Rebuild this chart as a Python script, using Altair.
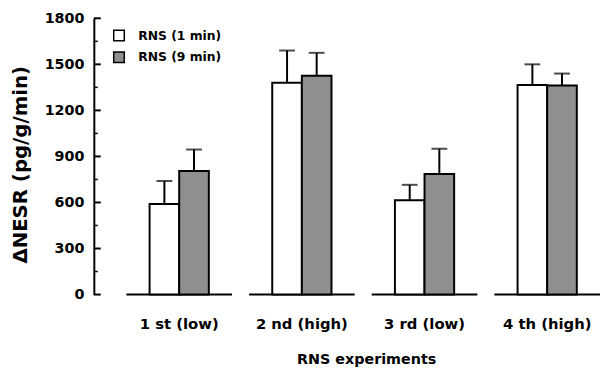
import altair as alt
import pandas as pd

groups = ["1 st (low)", "2 nd (high)", "3 rd (low)", "4 th (high)"]
series = ["RNS (1 min)", "RNS (9 min)"]
mean_1min = [590, 1380, 615, 1365]
mean_9min = [805, 1425, 785, 1362]
se_1min = [150, 210, 100, 135]
se_9min = [140, 150, 165, 78]
colors = ["white", "#8f8f8f"]
major_ticks = [0, 300, 600, 900, 1200, 1500, 1800]
minor_ticks = [150, 450, 750, 1050, 1350, 1650]

rows = []
for i, g in enumerate(groups):
    rows.append({"group": g, "series": series[0], "mean": mean_1min[i], "upper": mean_1min[i] + se_1min[i]})
    rows.append({"group": g, "series": series[1], "mean": mean_9min[i], "upper": mean_9min[i] + se_9min[i]})
df = pd.DataFrame(rows)
gdf = pd.DataFrame({"group": groups})
majdf = pd.DataFrame({"v": major_ticks})
mindf = pd.DataFrame({"v": minor_ticks})

FONT = "DejaVu Sans"
W, H = 513, 280
yscale = alt.Scale(domain=[0, 1800], nice=False, zero=True)

xenc = alt.X(
    "group:N", sort=groups,
    scale=alt.Scale(paddingInner=0.139, paddingOuter=0.1327, align=1),
    axis=alt.Axis(
        title="RNS experiments", labelAngle=0, ticks=False, domain=False,
        labelFont=FONT, labelFontWeight="bold", labelFontSize=15, labelColor="black",
        labelPadding=22, titleFont=FONT, titleFontWeight="bold", titleFontSize=14.5,
        titleColor="black", titleX=276, titleY=66, titleAlign="center",
        titleBaseline="middle", grid=False,
    ),
)
xoff = alt.XOffset("series:N", sort=series, scale=alt.Scale(paddingInner=0, paddingOuter=0.783))

bars = alt.Chart(df).mark_bar(stroke="black", strokeWidth=2).encode(
    x=xenc,
    xOffset=xoff,
    y=alt.Y(
        "mean:Q", scale=yscale,
        axis=alt.Axis(
            orient="left", values=major_ticks, ticks=False, format="d",
            domain=True, domainColor="black", domainWidth=2, grid=False,
            labelFont=FONT, labelFontWeight="bold", labelFontSize=14.5, labelColor="black",
            labelPadding=10, title="\u0394NESR (pg/g/min)", titleFont=FONT,
            titleFontWeight="bold", titleFontSize=20, titleColor="black",
            titleAngle=270, titleX=-74, titleY=148, titleAlign="center",
            titleBaseline="middle",
        ),
    ),
    fill=alt.Fill(
        "series:N", sort=series,
        scale=alt.Scale(domain=series, range=colors),
        legend=alt.Legend(
            orient="none", legendX=19, legendY=11, title=None, symbolType="square",
            symbolSize=115, symbolStrokeColor="black", symbolStrokeWidth=1.5,
            labelFont=FONT, labelFontWeight="bold", labelFontSize=12.5, labelColor="black",
            labelOffset=13, rowPadding=5, padding=0, symbolOpacity=1,
        ),
    ),
)

rules = alt.Chart(df).mark_rule(color="black", strokeWidth=2).encode(
    x=xenc,
    xOffset=xoff,
    y=alt.Y("mean:Q", scale=yscale, axis=None),
    y2="upper:Q",
)

caps = alt.Chart(df).mark_tick(color="black", thickness=2, size=16, orient="horizontal").encode(
    x=xenc,
    xOffset=xoff,
    y=alt.Y("upper:Q", scale=yscale, axis=None),
)

baseline = alt.Chart(gdf).mark_bar(fillOpacity=0, stroke="black", strokeWidth=2).encode(
    x=xenc,
    y=alt.Y(datum=0, scale=yscale, axis=None),
    y2=alt.Y2(datum=0),
)

major = alt.Chart(majdf).mark_rule(color="black", strokeWidth=2).encode(
    y=alt.Y("v:Q", scale=yscale, axis=None),
    x=alt.value(0),
    x2=alt.value(7),
)
minor = alt.Chart(mindf).mark_rule(color="black", strokeWidth=1.5).encode(
    y=alt.Y("v:Q", scale=yscale, axis=None),
    x=alt.value(0),
    x2=alt.value(4),
)

chart = (
    alt.layer(baseline, bars, rules, caps, major, minor)
    .resolve_scale(y="shared")
    .resolve_axis(y="independent")
    .properties(
        width=W, height=H,
        autosize=alt.AutoSizeParams(type="none"),
        padding={"left": 87, "top": 8, "right": 0, "bottom": 72},
        background="white",
    )
    .configure_view(stroke=None)
)

chart.save("out.html", embed_options={"renderer": "svg", "actions": False})
